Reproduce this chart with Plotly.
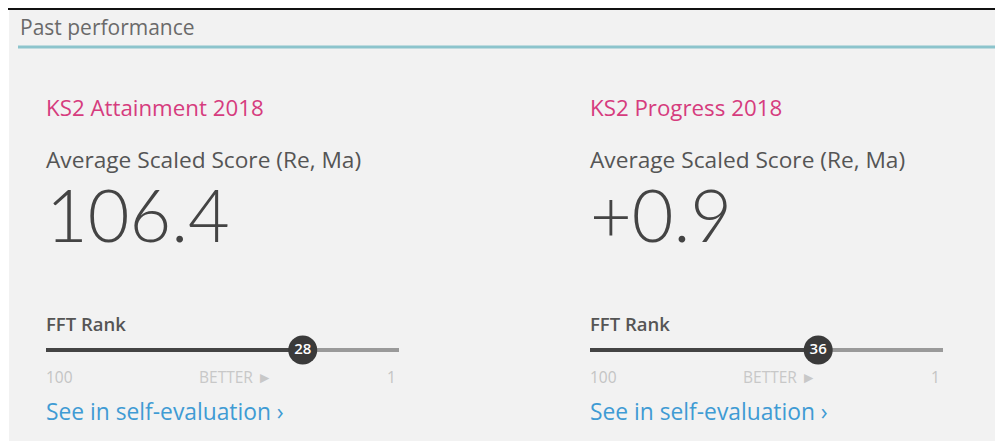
import plotly.graph_objects as go

# page is offset by the browser's default 8px body margin
OX, OY = 8, 8
W, H = 1003 - OX, 441 - OY

panel_titles = ["KS2 Attainment 2018", "KS2 Progress 2018"]
measure_labels = ["Average Scaled Score (Re, Ma)", "Average Scaled Score (Re, Ma)"]
headline_values = ["106.4", "+0.9"]
fft_ranks = [28, 36]
rank_scale = [100, 1]
section_title = "Past performance"
link_text = "See in self-evaluation ›"

FONT = "Open Sans"
NUMFONT = "Lato"
panel_left = [46, 590]
slider_right = [399, 943]
slider_y = 350

def px(x):
    return (x - OX) / W

def py(y):
    return 1 - (y - OY) / H

fig = go.Figure()
annotations = []
shapes = []

shapes.append(dict(type="rect", xref="paper", yref="paper", x0=px(9), x1=1, y0=0, y1=1,
                   fillcolor="#f2f2f2", line=dict(width=0), layer="below"))
shapes.append(dict(type="line", xref="paper", yref="paper", x0=0, x1=1, y0=py(9), y1=py(9),
                   line=dict(color="#111111", width=2)))
shapes.append(dict(type="line", xref="paper", yref="paper", x0=px(18), x1=1, y0=py(47), y1=py(47),
                   line=dict(color="#8cc4cc", width=3)))

def ann(text, x, y, size, color, anchor="left", family=FONT, weight=None):
    f = dict(family=family, size=size, color=color)
    if weight:
        f["weight"] = weight
    return dict(text=text, x=px(x), y=py(y), xref="paper", yref="paper",
                xanchor=anchor, yanchor="middle", showarrow=False, font=f)

annotations.append(ann(section_title, 18, 27, 21, "#6a6a6a"))

sl_h = 0.08
for i in range(2):
    L = panel_left[i]
    R = slider_right[i]
    annotations += [
        ann(panel_titles[i], L - 2, 108, 22.3, "#d63c7e"),
        ann(measure_labels[i], L - 2, 160, 22.7, "#555555"),
        ann(headline_values[i], L - 2, 214, 72, "#444444", family=NUMFONT, weight=300),
        ann("FFT Rank", L - 2, 323, 18.5, "#555555", weight=600),
        ann(str(rank_scale[0]), L - 2, 377, 15.5, "#c4c4c4"),
        ann("BETTER ►", L + 151, 377, 15.5, "#c8c8c8"),
        ann(str(rank_scale[1]), R - 1, 377, 15.5, "#c4c4c4", anchor="right"),
        ann(link_text, L - 2, 411, 22.8, "#3f9bd4"),
    ]
    xa = "x" if i == 0 else "x2"
    ya = "y" if i == 0 else "y2"
    r = fft_ranks[i]
    fig.add_trace(go.Scatter(x=[rank_scale[0], r], y=[0, 0], mode="lines", xaxis=xa, yaxis=ya,
                             line=dict(color="#444444", width=4), hoverinfo="skip", showlegend=False))
    fig.add_trace(go.Scatter(x=[r, rank_scale[1]], y=[0, 0], mode="lines", xaxis=xa, yaxis=ya,
                             line=dict(color="#9a9a9a", width=4), hoverinfo="skip", showlegend=False))
    fig.add_trace(go.Scatter(x=[r], y=[0], mode="markers+text", xaxis=xa, yaxis=ya,
                             marker=dict(size=29, color="#3a3a3a", line=dict(width=0)),
                             text=[str(r)], textposition="middle center",
                             textfont=dict(family=FONT, size=15, color="#ffffff", weight=600),
                             hoverinfo="skip", showlegend=False))

axis_common = dict(showgrid=False, zeroline=False, showticklabels=False, showline=False, fixedrange=True)
ydom = [py(slider_y) - sl_h / 2, py(slider_y) + sl_h / 2]
fig.update_layout(
    width=W, height=H,
    margin=dict(l=0, r=0, t=0, b=0),
    paper_bgcolor="#ffffff",
    plot_bgcolor="rgba(0,0,0,0)",
    shapes=shapes,
    annotations=annotations,
    xaxis=dict(domain=[px(panel_left[0]), px(slider_right[0])], range=[rank_scale[0], rank_scale[1]], **axis_common),
    yaxis=dict(domain=ydom, range=[-1, 1], **axis_common),
    xaxis2=dict(domain=[px(panel_left[1]), px(slider_right[1])], range=[rank_scale[0], rank_scale[1]], anchor="y2", **axis_common),
    yaxis2=dict(domain=ydom, range=[-1, 1], anchor="x2", **axis_common),
)

fig.write_html("out.html")
